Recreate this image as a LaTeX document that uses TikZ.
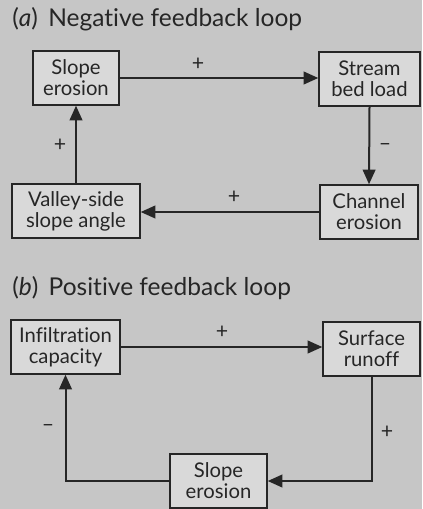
\documentclass[tikz,border=0pt]{standalone}
\usepackage{fontspec}
\setmainfont{Lato}[Ligatures=NoCommon]
\usetikzlibrary{arrows.meta}
\definecolor{bg}{HTML}{C6C6C6}
\definecolor{boxfill}{HTML}{D9D9D9}
\definecolor{ink}{HTML}{262626}
\tikzset{
  fb/.style={draw=ink, line width=1.1pt, fill=boxfill, text=ink, align=center,
    inner sep=0pt, font=\fontsize{15.2}{15.8}\selectfont},
  conn/.style={draw=ink, line width=1.5pt, -{Triangle[length=11pt,width=9.5pt]}},
  sgn/.style={text=ink, font=\fontsize{16}{16}\selectfont},
  ttl/.style={text=ink, anchor=base west, inner sep=0pt, font=\fontsize{18.4}{20}\selectfont}
}
\begin{document}
\begin{tikzpicture}[x=0.75pt,y=-0.75pt]
\fill[bg] (0,0) rectangle (422,509);
\useasboundingbox (0,0) rectangle (422,509);
% (a)
\node[ttl] (ta) at (12,27) {(\textit{a})\, Negative feedback loop};
\node[fb, minimum width=86*0.75pt, minimum height=54*0.75pt] (a1) at (76,78) {Slope\\erosion};
\node[fb, minimum width=101*0.75pt, minimum height=54*0.75pt] (a2) at (369.5,79) {Stream\\bed load};
\node[fb, minimum width=98*0.75pt, minimum height=54*0.75pt] (a3) at (369,212) {Channel\\erosion};
\node[fb, minimum width=128*0.75pt, minimum height=54*0.75pt] (a4) at (76,211) {Valley-side\\slope angle};
\draw[conn] (a1.east) -- (a1.east -| a2.west);
\draw[conn] (a2.south) -- (a3.north);
\draw[conn] (a3.west) -- (a3.west -| a4.east);
\draw[conn] (a4.north) -- (a1.south);
\node[sgn] (p1) at (198,64) {+};
\node[sgn] (m1) at (385,147) {\textendash};
\node[sgn] (p2) at (234,197) {+};
\node[sgn] (p3) at (60,145) {+};
% (b)
\node[ttl] (tb) at (12,295) {(\textit{b})\, Positive feedback loop};
\node[fb, minimum width=109*0.75pt, minimum height=54*0.75pt] (b1) at (65.5,347) {Infiltration\\capacity};
\node[fb, minimum width=97*0.75pt, minimum height=54*0.75pt] (b2) at (371.5,349) {Surface\\runoff};
\node[fb, minimum width=97*0.75pt, minimum height=54*0.75pt] (b3) at (218.5,481) {Slope\\erosion};
\draw[conn] (b1.east) -- (b1.east -| b2.west);
\draw[conn] (b2.south) |- (b3.east);
\draw[conn] (b3.west) -| (b1.south);
\node[sgn] (p4) at (222,332) {+};
\node[sgn] (p5) at (387,432) {+};
\node[sgn] (m2) at (48,428) {\textendash};
\end{tikzpicture}
\end{document}
